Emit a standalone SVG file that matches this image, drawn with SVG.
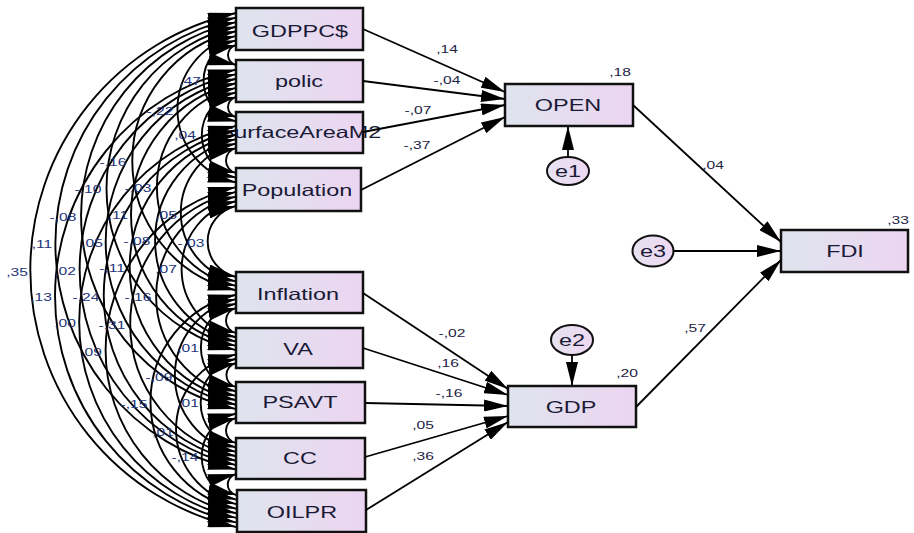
<svg xmlns="http://www.w3.org/2000/svg" width="914" height="533" viewBox="0 0 914 533">
  <defs>
    <linearGradient id="boxFill" x1="0" y1="0" x2="1" y2="0">
      <stop offset="0" stop-color="#dfe4ee"/>
      <stop offset="1" stop-color="#ecd5f1"/>
    </linearGradient>
    <linearGradient id="errFill" x1="0" y1="0" x2="1" y2="0">
      <stop offset="0" stop-color="#e6e2f0"/>
      <stop offset="1" stop-color="#eed8f2"/>
    </linearGradient>
    <marker id="ah" viewBox="0 0 24 12" refX="24" refY="6" markerWidth="24" markerHeight="12" markerUnits="userSpaceOnUse" orient="auto-start-reverse">
      <path d="M0,0 L24,6 L0,12 z" fill="#000"/>
    </marker>
    <marker id="ahc" viewBox="0 0 28 13" refX="28" refY="6.5" markerWidth="28" markerHeight="13" markerUnits="userSpaceOnUse" orient="auto-start-reverse">
      <path d="M0,0 L28,6.5 L0,13 z" fill="#000"/>
    </marker>
  </defs>
  <style>
    .box { fill: url(#boxFill); stroke: #111; stroke-width: 2.5; }
    .err { fill: url(#errFill); stroke: #111; stroke-width: 2; }
    .lbl { font-family: "Liberation Sans", Arial, sans-serif; font-size: 16.5px; fill: #1a1a36; text-anchor: middle; }
    .coef { font-family: "Liberation Sans", Arial, sans-serif; font-size: 11px; fill: #1e2446; text-anchor: middle; }
    .cov { font-family: "Liberation Sans", Arial, sans-serif; font-size: 11px; fill: #24357a; text-anchor: middle; }
    .path { fill: none; stroke: #000; stroke-width: 1.8; marker-end: url(#ah); }
    .arc { fill: none; stroke: #000; stroke-width: 1.9; marker-start: url(#ahc); marker-end: url(#ahc); }
  </style>

  <!-- observed exogenous variables -->
  <g id="GDPPC"><rect class="box" x="236" y="8" width="127" height="42"/><text class="lbl" transform="translate(300,37) scale(1.42,1)">GDPPC$</text></g>
  <g id="polic"><rect class="box" x="236" y="60" width="127" height="42"/><text class="lbl" transform="translate(299,87) scale(1.42,1)">polic</text></g>
  <g id="SurfaceAreaM2"><rect class="box" x="236" y="112" width="127" height="41"/><text class="lbl" transform="translate(300,138) scale(1.42,1)">SurfaceAreaM2</text></g>
  <g id="Population"><rect class="box" x="236" y="168" width="125" height="43"/><text class="lbl" transform="translate(297,196) scale(1.42,1)">Population</text></g>
  <g id="Inflation"><rect class="box" x="236" y="272" width="127" height="41"/><text class="lbl" transform="translate(298,300) scale(1.42,1)">Inflation</text></g>
  <g id="VA"><rect class="box" x="236" y="328" width="127" height="40"/><text class="lbl" transform="translate(298,355) scale(1.42,1)">VA</text></g>
  <g id="PSAVT"><rect class="box" x="236" y="382" width="129" height="41"/><text class="lbl" transform="translate(300,408) scale(1.42,1)">PSAVT</text></g>
  <g id="CC"><rect class="box" x="236" y="438" width="129" height="41"/><text class="lbl" transform="translate(300,464) scale(1.42,1)">CC</text></g>
  <g id="OILPR"><rect class="box" x="237" y="490" width="129" height="42"/><text class="lbl" transform="translate(302,518) scale(1.42,1)">OILPR</text></g>

  <!-- endogenous variables and errors -->
  <g id="OPEN"><rect class="box" x="505" y="84" width="128" height="42"/><text class="lbl" transform="translate(568,111) scale(1.42,1)">OPEN</text><text class="coef" transform="translate(620,76) scale(1.42,1)">,18</text></g>
  <g id="GDP"><rect class="box" x="508" y="386" width="128" height="41"/><text class="lbl" transform="translate(571,413) scale(1.42,1)">GDP</text><text class="coef" transform="translate(627,377) scale(1.42,1)">,20</text></g>
  <g id="FDI"><rect class="box" x="781" y="230" width="127" height="42"/><text class="lbl" transform="translate(845,257) scale(1.42,1)">FDI</text><text class="coef" transform="translate(898,224) scale(1.42,1)">,33</text></g>
  <g id="e1"><ellipse class="err" cx="568" cy="171" rx="21" ry="14"/><text class="lbl" transform="translate(568,177) scale(1.42,1)">e1</text></g>
  <g id="e2"><ellipse class="err" cx="572" cy="340" rx="21" ry="15"/><text class="lbl" transform="translate(572,346) scale(1.42,1)">e2</text></g>
  <g id="e3"><ellipse class="err" cx="653" cy="251" rx="20.5" ry="15.5"/><text class="lbl" transform="translate(653,257) scale(1.42,1)">e3</text></g>

  <!-- regression paths -->
  <g id="paths">
    <line class="path" x1="363" y1="29" x2="505" y2="92"/>
    <line class="path" x1="363" y1="81" x2="505" y2="99"/>
    <line class="path" x1="363" y1="132" x2="505" y2="105"/>
    <line class="path" x1="361" y1="190" x2="505" y2="117"/>
    <line class="path" x1="363" y1="293" x2="508" y2="389"/>
    <line class="path" x1="363" y1="348" x2="508" y2="395"/>
    <line class="path" x1="365" y1="403" x2="508" y2="406"/>
    <line class="path" x1="365" y1="457" x2="508" y2="416"/>
    <line class="path" x1="366" y1="510" x2="508" y2="422"/>
    <line class="path" x1="633" y1="105" x2="781" y2="242"/>
    <line class="path" x1="636" y1="407" x2="781" y2="260"/>
    <line class="path" x1="673.5" y1="251" x2="781" y2="251"/>
    <line class="path" x1="568" y1="157" x2="568" y2="126"/>
    <line class="path" x1="572" y1="355" x2="572" y2="386"/>
  </g>
  <g id="path-coefficients">
    <text class="coef" transform="translate(447,53) scale(1.42,1)">,14</text>
    <text class="coef" transform="translate(447,84) scale(1.42,1)">-,04</text>
    <text class="coef" transform="translate(418,114) scale(1.42,1)">-,07</text>
    <text class="coef" transform="translate(417,149) scale(1.42,1)">-,37</text>
    <text class="coef" transform="translate(452,337) scale(1.42,1)">-,02</text>
    <text class="coef" transform="translate(448,367) scale(1.42,1)">,16</text>
    <text class="coef" transform="translate(449,397) scale(1.42,1)">-,16</text>
    <text class="coef" transform="translate(423,429) scale(1.42,1)">,05</text>
    <text class="coef" transform="translate(423,460) scale(1.42,1)">,36</text>
    <text class="coef" transform="translate(713,169) scale(1.42,1)">,04</text>
    <text class="coef" transform="translate(695,332) scale(1.42,1)">,57</text>
  </g>

  <!-- covariances among exogenous variables -->
  <g id="covariances">
    <path class="arc" d="M236,45 A10.25,10.25 0 0 0 236,65"/>
    <path class="arc" d="M236,40.4 A41.5,41.5 0 0 0 236,121.4"/>
    <path class="arc" d="M236,35.9 A75.1,75.1 0 0 0 236,182.4"/>
    <path class="arc" d="M236,31.3 A132.7,132.7 0 0 0 236,290.3"/>
    <path class="arc" d="M236,26.7 A165.7,165.7 0 0 0 236,350.1"/>
    <path class="arc" d="M236,22.1 A198.3,198.3 0 0 0 236,409.1"/>
    <path class="arc" d="M236,17.6 A231.7,231.7 0 0 0 236,469.6"/>
    <path class="arc" d="M236,13 A263.4,263.4 0 0 0 236,527"/>
    <path class="arc" d="M236,97 A10.25,10.25 0 0 0 236,117"/>
    <path class="arc" d="M236,92.4 A43.7,43.7 0 0 0 236,177.7"/>
    <path class="arc" d="M236,87.9 A101.5,101.5 0 0 0 236,285.9"/>
    <path class="arc" d="M236,83.3 A134.6,134.6 0 0 0 236,345.9"/>
    <path class="arc" d="M236,78.7 A167.1,167.1 0 0 0 236,404.7"/>
    <path class="arc" d="M236,74.1 A200.4,200.4 0 0 0 236,465.1"/>
    <path class="arc" d="M236,69.6 A232.1,232.1 0 0 0 236,522.4"/>
    <path class="arc" d="M236,148 A12.8,12.8 0 0 0 236,173"/>
    <path class="arc" d="M236,143.6 A70.6,70.6 0 0 0 236,281.4"/>
    <path class="arc" d="M236,139.1 A103.8,103.8 0 0 0 236,341.6"/>
    <path class="arc" d="M236,134.7 A136.1,136.1 0 0 0 236,400.3"/>
    <path class="arc" d="M236,130.3 A169.3,169.3 0 0 0 236,460.7"/>
    <path class="arc" d="M236,125.9 A200.9,200.9 0 0 0 236,517.9"/>
    <path class="arc" d="M236,206 A36.4,36.4 0 0 0 236,277"/>
    <path class="arc" d="M236,201.3 A69.7,69.7 0 0 0 236,337.3"/>
    <path class="arc" d="M236,196.6 A102.1,102.1 0 0 0 236,395.9"/>
    <path class="arc" d="M236,191.9 A135.5,135.5 0 0 0 236,456.3"/>
    <path class="arc" d="M236,187.1 A167.2,167.2 0 0 0 236,513.3"/>
    <path class="arc" d="M236,308 A12.8,12.8 0 0 0 236,333"/>
    <path class="arc" d="M236,303.6 A45,45 0 0 0 236,391.4"/>
    <path class="arc" d="M236,299.1 A78.3,78.3 0 0 0 236,451.9"/>
    <path class="arc" d="M236,294.7 A109.7,109.7 0 0 0 236,508.7"/>
    <path class="arc" d="M236,363 A12.3,12.3 0 0 0 236,387"/>
    <path class="arc" d="M236,358.7 A45.5,45.5 0 0 0 236,447.4"/>
    <path class="arc" d="M236,354.4 A76.7,76.7 0 0 0 236,504.1"/>
    <path class="arc" d="M236,418 A12.8,12.8 0 0 0 236,443"/>
    <path class="arc" d="M236,413.6 A44.1,44.1 0 0 0 236,499.6"/>
    <path class="arc" d="M236,474 A10.8,10.8 0 0 0 236,495"/>
  </g>
  <g id="covariance-values">
    <text class="cov" transform="translate(190,85) scale(1.42,1)">,47</text>
    <text class="cov" transform="translate(160,115) scale(1.42,1)">-,22</text>
    <text class="cov" transform="translate(185,139) scale(1.42,1)">,04</text>
    <text class="cov" transform="translate(113,166) scale(1.42,1)">-,16</text>
    <text class="cov" transform="translate(88,193) scale(1.42,1)">-,10</text>
    <text class="cov" transform="translate(138,192) scale(1.42,1)">-,03</text>
    <text class="cov" transform="translate(63,221) scale(1.42,1)">-,08</text>
    <text class="cov" transform="translate(118,219) scale(1.42,1)">,11</text>
    <text class="cov" transform="translate(166,219) scale(1.42,1)">,05</text>
    <text class="cov" transform="translate(42,248) scale(1.42,1)">,11</text>
    <text class="cov" transform="translate(92,247) scale(1.42,1)">,05</text>
    <text class="cov" transform="translate(137,245) scale(1.42,1)">-,08</text>
    <text class="cov" transform="translate(191,247) scale(1.42,1)">-,03</text>
    <text class="cov" transform="translate(17,276) scale(1.42,1)">,35</text>
    <text class="cov" transform="translate(65,275) scale(1.42,1)">,02</text>
    <text class="cov" transform="translate(112,272) scale(1.42,1)">-,11</text>
    <text class="cov" transform="translate(166,273) scale(1.42,1)">,07</text>
    <text class="cov" transform="translate(41,301) scale(1.42,1)">,13</text>
    <text class="cov" transform="translate(86,301) scale(1.42,1)">-,24</text>
    <text class="cov" transform="translate(138,301) scale(1.42,1)">-,16</text>
    <text class="cov" transform="translate(65,327) scale(1.42,1)">,00</text>
    <text class="cov" transform="translate(112,329) scale(1.42,1)">-,31</text>
    <text class="cov" transform="translate(91,356) scale(1.42,1)">,09</text>
    <text class="cov" transform="translate(188,352) scale(1.42,1)">,01</text>
    <text class="cov" transform="translate(159,381) scale(1.42,1)">-,09</text>
    <text class="cov" transform="translate(134,408) scale(1.42,1)">-,15</text>
    <text class="cov" transform="translate(188,407) scale(1.42,1)">,01</text>
    <text class="cov" transform="translate(163,436) scale(1.42,1)">,01</text>
    <text class="cov" transform="translate(185,461) scale(1.42,1)">-,14</text>
  </g>
</svg>
